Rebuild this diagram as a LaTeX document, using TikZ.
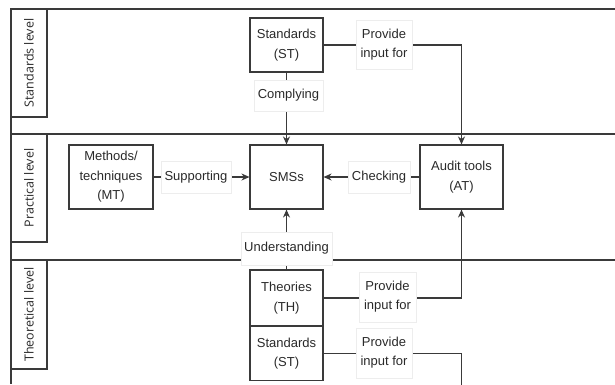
\documentclass[tikz,border=0pt]{standalone}
\usepackage{fontspec}
\setmainfont{Liberation Sans}
\newfontfamily\lanefont{Open Sans}
\usetikzlibrary{arrows.meta}
\definecolor{linec}{HTML}{3A3A3A}
\definecolor{txtc}{HTML}{2A2A2A}
\begin{document}
\begin{tikzpicture}[x=1pt,y=-1pt,
  every node/.style={text=txtc},
  box/.style={draw=linec, line width=1.1pt, fill=white, align=center, inner sep=0pt,
    font=\fontsize{13}{19.5}\selectfont},
  lbl/.style={draw=black!7, line width=0.6pt, fill=white, align=center, inner sep=0pt,
    font=\fontsize{13}{19}\selectfont},
  lanebox/.style={draw=linec, line width=1.1pt, fill=white, minimum width=36pt, inner sep=0pt},
  lanetxt/.style={rotate=90, font=\lanefont\fontsize{12.5}{14}\selectfont, inner sep=0pt},
  rule/.style={draw=linec, line width=1.1pt},
  conn/.style={draw=linec, line width=1.1pt, -{Stealth[length=8pt,width=7pt]}},
  plain/.style={draw=linec, line width=1.1pt}]
\useasboundingbox (0,0) rectangle (615,384);
\clip (0,0) rectangle (615,384);
% lane rules
\coordinate (l0) at (11,9);
\coordinate (r0) at (615,9);
\coordinate (l1) at (11,134);
\coordinate (r1) at (615,134);
\coordinate (l2) at (11,260);
\coordinate (r2) at (615,260);
\coordinate (lb) at (11,384);
\draw[rule] (r0) -- (l0) -- (lb);
\draw[rule] (l1) -- (r1);
\draw[rule] (l2) -- (r2);
% lane labels
\node[lanebox, minimum height=108pt] (lane1) at (29,63) {};
\node[lanetxt] at (lane1.center) {Standards level};
\node[lanebox, minimum height=108pt] (lane2) at (29,188) {};
\node[lanetxt] at (lane2.center) {Practical level};
\node[lanebox, minimum height=109pt] (lane3) at (29,314.5) {};
\node[lanetxt] at (lane3.center) {Theoretical level};
% boxes
\node[box, minimum width=73pt, minimum height=54pt] (st) at (286.5,45) {Standards\\(ST)};
\node[box, minimum width=73pt, minimum height=64pt] (sms) at (286.5,177) {SMSs};
\node[box, minimum width=84pt, minimum height=64pt] (mt) at (111,177) {Methods/\\techniques\\(MT)};
\node[box, minimum width=83pt, minimum height=64pt] (at) at (461.5,177) {Audit tools\\(AT)};
\node[box, minimum width=73pt, minimum height=56pt] (th) at (286.5,298) {Theories\\(TH)};
\node[box, minimum width=73pt, minimum height=54pt, anchor=north] (st2) at (286.5,326) {Standards\\(ST)};
\coordinate (end2) at (461.5,400);
% connectors
\draw[conn] (st) -- (sms);
\draw[conn] (st.east) -| (at.north);
\draw[conn] (mt.east) -- (sms.west);
\draw[conn] (at.west) -- (sms.east);
\draw[conn] (th) -- (sms);
\draw[conn] (th.east) -| (at.south);
\draw[plain] (st2.east) -| (end2);
% connector labels
\node[lbl, minimum width=69pt, minimum height=31pt] at (288.5,95.5) {Complying};
\node[lbl, minimum width=56pt, minimum height=49pt] at (384,44.5) {Provide\\input for};
\node[lbl, minimum width=70pt, minimum height=32pt] at (196,177) {Supporting};
\node[lbl, minimum width=62pt, minimum height=32pt] at (379,177) {Checking};
\node[lbl, minimum width=91pt, minimum height=33pt] at (286.5,248.5) {Understanding};
\node[lbl, minimum width=57pt, minimum height=50pt] at (387.5,297) {Provide\\input for};
\node[lbl, minimum width=56pt, minimum height=50pt] at (384,353) {Provide\\input for};
\end{tikzpicture}
\end{document}
